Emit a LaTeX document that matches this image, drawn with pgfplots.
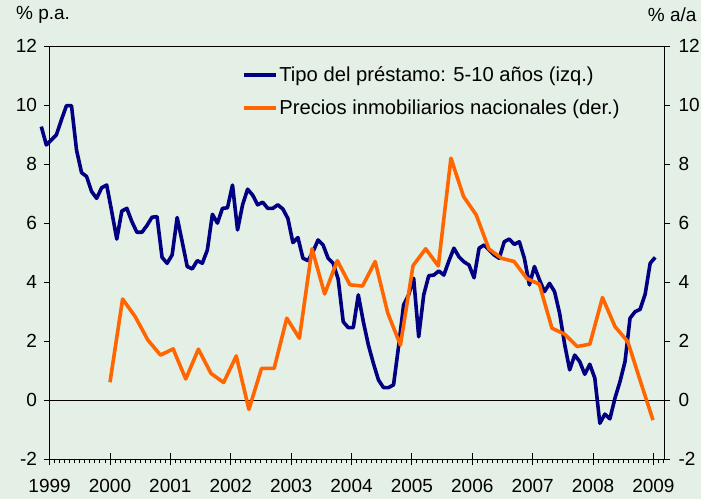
\documentclass[border=0pt]{standalone}
\usepackage{fontspec}
\setmainfont{Liberation Sans}
\usepackage{pgfplots}
\pgfplotsset{compat=1.18}
\usepackage{pgfplotstable}
\definecolor{bg}{RGB}{228,240,230}
\definecolor{navyb}{RGB}{0,0,128}
\definecolor{orng}{RGB}{255,102,0}

% Tipo del prestamo 5-10 anos (monthly, left axis)
\pgfplotstableread{
y
9.27
8.65
8.82
8.99
9.50
9.98
9.98
8.48
7.71
7.58
7.07
6.84
7.20
7.29
6.39
5.46
6.41
6.50
6.05
5.69
5.69
5.92
6.20
6.22
4.84
4.64
4.92
6.19
5.37
4.53
4.45
4.73
4.64
5.09
6.30
6.00
6.50
6.52
7.29
5.77
6.62
7.15
6.95
6.62
6.71
6.50
6.50
6.62
6.48
6.16
5.34
5.51
4.81
4.73
5.03
5.43
5.26
4.81
4.64
4.10
2.66
2.46
2.46
3.57
2.66
1.87
1.25
0.69
0.43
0.43
0.52
1.82
3.23
3.57
4.13
2.15
3.57
4.22
4.24
4.38
4.24
4.72
5.15
4.86
4.69
4.58
4.15
5.15
5.26
5.09
4.92
4.81
5.37
5.46
5.28
5.37
4.81
3.91
4.53
4.08
3.68
3.96
3.68
2.95
1.90
1.03
1.53
1.31
0.88
1.22
0.75
-0.78
-0.47
-0.63
0.07
0.63
1.31
2.78
3.00
3.08
3.59
4.64
4.84
}\tipo

% Precios inmobiliarios nacionales (right axis)
\pgfplotstableread{
y
0.61
3.43
2.83
2.04
1.53
1.74
0.72
1.73
0.91
0.60
1.50
-0.31
1.08
1.08
2.78
2.10
5.13
3.60
4.73
3.91
3.87
4.70
2.95
1.87
4.56
5.13
4.55
8.20
6.90
6.28
5.13
4.81
4.70
4.13
3.93
2.44
2.24
1.82
1.90
3.48
2.49
1.99
0.65
-0.67
}\precios

\pgfplotsset{
  mybase/.style={
    at={(0,0)}, anchor=south west,
    scale only axis, width=614.4pt, height=413.3pt,
    xmin=0, xmax=122.1, ymin=-2, ymax=12,
    ytick={-2,0,2,4,6,8,10,12},
    yticklabels={-2,0,2,4,6,8,10,12},
    tick align=outside,
    major tick length=6pt,
    minor tick length=4pt,
    every tick/.style={black, line width=0.9pt},
    tick label style={font=\fontsize{19}{22}\selectfont, text=black},
    axis line style={black, line width=0.9pt},
  },
}

\begin{document}
\begin{tikzpicture}[x=1pt,y=1pt]
\fill[bg] (-49.6,-39.7) rectangle (651.4,459.3);
\begin{axis}[mybase,
  clip=false,
  xtick={0,12,...,120},
  xticklabels={1999,2000,2001,2002,2003,2004,2005,2006,2007,2008,2009},
  minor xtick={1,2,...,122},
  extra x ticks={12,24,...,120},
  extra x tick labels={},
  extra x tick style={tick align=inside, major tick length=6pt},
  xtick pos=left, ytick pos=left,
  yticklabel style={xshift=-3pt},
  xticklabel style={yshift=-10pt},
]
\addplot[black, line width=0.8pt, forget plot] coordinates {(0,0) (122.1,0)};
\addplot[navyb, line width=3.6pt, line join=round] table[x expr=\coordindex-1.65, y=y] {\tipo};
\node[anchor=west, font=\fontsize{19}{22}\selectfont] at ([xshift=-37pt,yshift=31pt] rel axis cs:0,1) {\% p.a.};
\node[anchor=east, font=\fontsize{19}{22}\selectfont] at ([xshift=36pt,yshift=31pt] rel axis cs:1,1) {\% a/a};
\end{axis}
\begin{axis}[mybase,
  axis x line=none,
  axis y line*=right,
  yticklabel style={xshift=5pt},
  legend style={draw=none, fill=none, at={(0.3125,0.955)}, anchor=north west,
    font=\fontsize{20.2}{23}\selectfont, row sep=13pt, inner sep=0pt},
  legend cell align=left,
  legend image code/.code={\draw[#1] (0pt,0pt) -- (32pt,0pt);},
]
\addlegendimage{navyb, line width=3.6pt}
\addlegendentry{Tipo del préstamo: 5-10 años (izq.)}
\addplot[orng, line width=3.6pt, line join=round] table[x expr=12+2.5095*\coordindex, y=y] {\precios};
\addlegendentry{Precios inmobiliarios nacionales (der.)}
\end{axis}
\pgfresetboundingbox
\path (-49.6,-39.7) rectangle (651.4,459.3);
\end{tikzpicture}
\end{document}
